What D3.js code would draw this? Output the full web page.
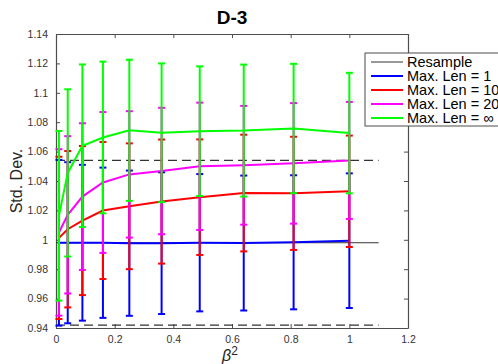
<html lang="en">
<head>
<meta charset="UTF-8">
<script src="https://d3js.org/d3.v7.min.js"></script>
<style>
  body { margin: 0; background: #fff; overflow: hidden; }
  svg text { font-family: "Liberation Sans", Arial, sans-serif; }
</style>
</head>
<body>
<div id="chart"></div>
<script>
// beta^2 values where the runs were evaluated
const beta2 = [0.01, 0.04, 0.09, 0.16, 0.25, 0.36, 0.49, 0.64, 0.81, 1.0];

// resample reference: mean and +/- band, drawn over [0, 1.1]
const resampleX = [0, 1.1];
const resampleMean = 0.998;
const resampleErr = 0.056;

// series means and half error bar lengths
const len1Mean  = [0.998, 0.998, 0.998, 0.998, 0.9977, 0.9977, 0.998, 0.9978, 0.9983, 0.9994];
const len1Err   = [0.0564, 0.0548, 0.053, 0.0511, 0.0494, 0.0482, 0.0467, 0.0459, 0.0456, 0.0458];
const len10Mean = [1.0013, 1.0072, 1.0131, 1.0199, 1.0228, 1.026, 1.029, 1.0318, 1.0316, 1.033];
const len10Err  = [0.0552, 0.0532, 0.0507, 0.0466, 0.0428, 0.0422, 0.0393, 0.0397, 0.0385, 0.0379];
const len20Mean = [1.005, 1.017, 1.0294, 1.039, 1.0445, 1.0468, 1.05, 1.0507, 1.052, 1.054];
const len20Err  = [0.0566, 0.0535, 0.0499, 0.0479, 0.043, 0.043, 0.0433, 0.0404, 0.041, 0.0398];
const lenInfMean = [1.0163, 1.0455, 1.064, 1.0696, 1.0745, 1.0728, 1.0739, 1.0743, 1.0757, 1.0726];
const lenInfErr  = [0.0577, 0.0569, 0.0553, 0.0516, 0.048, 0.0472, 0.0441, 0.0449, 0.044, 0.041];

const xTicks = [0, 0.2, 0.4, 0.6, 0.8, 1, 1.2];
const yTicks = [0.94, 0.96, 0.98, 1, 1.02, 1.04, 1.06, 1.08, 1.1, 1.12, 1.14];

const seriesNames = ["Max. Len = 1", "Max. Len = 10", "Max. Len = 20", "Max. Len = \u221E"];
const seriesColors = ["#0000ff", "#ff0000", "#ff00ff", "#00ff00"];
const seriesMeans = [len1Mean, len10Mean, len20Mean, lenInfMean];
const seriesErrs = [len1Err, len10Err, len20Err, lenInfErr];

const W = 498, H = 364;
const pL = 56, pR = 408, pT = 34, pB = 328;

const svg = d3.select("#chart").append("svg")
    .attr("width", W)
    .attr("height", H);

const x = d3.scaleLinear().domain([0, 1.2]).range([pL, pR]);
const y = d3.scaleLinear().domain([0.94, 1.14]).range([pB, pT]);

// title
svg.append("text")
    .attr("x", 232).attr("y", 24)
    .attr("text-anchor", "middle")
    .style("font-size", "19px").style("font-weight", "bold")
    .text("D-3");

// axes: bottom/left with labels, top/right as box with ticks
const axisColor = "#4d4d4d";
const tick = 4;
const gx = svg.append("g").attr("transform", `translate(0,${pB})`)
    .call(d3.axisBottom(x).tickValues(xTicks).tickSizeInner(-tick).tickSizeOuter(0).tickPadding(8).tickFormat(d3.format("")));
const gxTop = svg.append("g").attr("transform", `translate(0,${pT})`)
    .call(d3.axisTop(x).tickValues(xTicks).tickSizeInner(-tick).tickSizeOuter(0).tickFormat(""));
const gy = svg.append("g").attr("transform", `translate(${pL},0)`)
    .call(d3.axisLeft(y).tickValues(yTicks).tickSizeInner(-tick).tickSizeOuter(0).tickPadding(8).tickFormat(d3.format("")));
const gyRight = svg.append("g").attr("transform", `translate(${pR},0)`)
    .call(d3.axisRight(y).tickValues(yTicks).tickSizeInner(-tick).tickSizeOuter(0).tickFormat(""));

[gx, gxTop, gy, gyRight].forEach(g => {
    g.select(".domain").attr("stroke", axisColor).attr("stroke-width", 1.2);
    g.selectAll(".tick line").attr("stroke", axisColor);
    g.selectAll(".tick text").attr("fill", "#333").style("font-size", "10.5px")
        .style("font-family", "'Liberation Sans', Arial, sans-serif");
});

// axis labels
svg.append("text")
    .attr("transform", `translate(22,${(pT + pB) / 2}) rotate(-90)`)
    .attr("text-anchor", "middle")
    .style("font-size", "16px").attr("fill", "#262626")
    .text("Std. Dev.");

const xl = svg.append("text")
    .attr("x", 230).attr("y", 361)
    .attr("text-anchor", "middle")
    .attr("fill", "#262626")
    .style("font-size", "16px");
xl.append("tspan").style("font-style", "italic").text("\u03B2");
xl.append("tspan").attr("dy", -6).style("font-size", "12px").text("2");

// resample line and dashed band
const line = d3.line().x(d => x(d[0])).y(d => y(d[1]));
svg.append("path")
    .attr("d", line(resampleX.map(v => [v, resampleMean])))
    .attr("fill", "none").attr("stroke", "#333").attr("stroke-width", 1);
[resampleMean + resampleErr, resampleMean - resampleErr].forEach(v => {
    svg.append("path")
        .attr("d", line(resampleX.map(xx => [xx, v])))
        .attr("fill", "none").attr("stroke", "#333").attr("stroke-width", 1.2)
        .attr("stroke-dasharray", "9,5");
});

// error bar series
const cap = 3.5;
seriesMeans.forEach((means, i) => {
    const errs = seriesErrs[i];
    const col = seriesColors[i];
    const g = svg.append("g");
    const pts = beta2.map((b, j) => ({ b, m: means[j], e: errs[j] }));
    g.selectAll("line.bar").data(pts).enter().append("line")
        .attr("x1", d => x(d.b)).attr("x2", d => x(d.b))
        .attr("y1", d => y(d.m - d.e)).attr("y2", d => y(d.m + d.e))
        .attr("stroke", col).attr("stroke-width", 2);
    ["lo", "hi"].forEach(k => {
        g.selectAll("line.cap" + k).data(pts).enter().append("line")
            .attr("x1", d => x(d.b) - cap).attr("x2", d => x(d.b) + cap)
            .attr("y1", d => y(k === "lo" ? d.m - d.e : d.m + d.e))
            .attr("y2", d => y(k === "lo" ? d.m - d.e : d.m + d.e))
            .attr("stroke", col).attr("stroke-width", 2);
    });
    g.append("path")
        .attr("d", line(pts.map(d => [d.b, d.m])))
        .attr("fill", "none").attr("stroke", col).attr("stroke-width", 2);
});

// legend
const lg = svg.append("g").attr("transform", "translate(365,53)");
lg.append("rect").attr("x", 0).attr("y", 0).attr("width", 140).attr("height", 73)
    .attr("fill", "#fff").attr("stroke", axisColor).attr("stroke-width", 1);
const legNames = ["Resample"].concat(seriesNames);
const legColors = ["#333"].concat(seriesColors);
legNames.forEach((n, i) => {
    const yy = 9 + i * 14;
    lg.append("line").attr("x1", 6).attr("x2", 38).attr("y1", yy).attr("y2", yy)
        .attr("stroke", legColors[i]).attr("stroke-width", i === 0 ? 1 : 2);
    lg.append("text").attr("x", 42).attr("y", yy + 5)
        .style("font-size", "14.5px").attr("fill", "#000").text(n);
});
</script>
</body>
</html>
